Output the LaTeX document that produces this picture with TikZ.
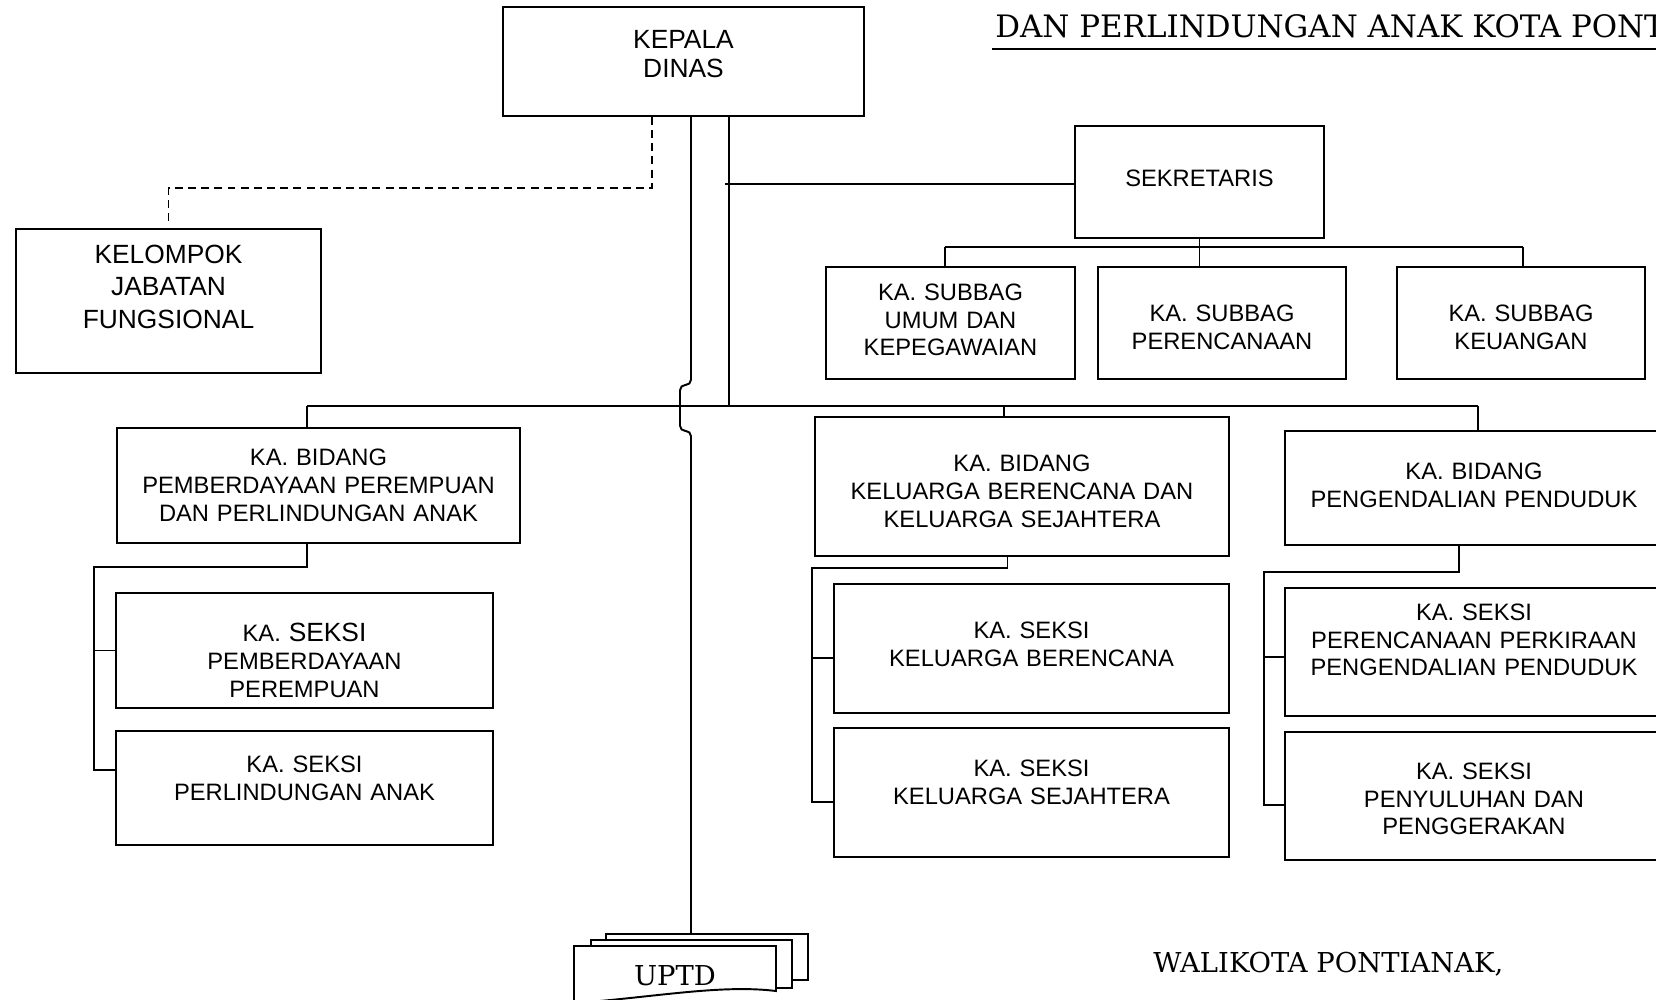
\documentclass[tikz,border=0pt]{standalone}
\usepackage{fontspec}
\setsansfont{Liberation Sans}
\newfontfamily\ttlfont{DejaVu Serif}
\usetikzlibrary{positioning}

\tikzset{
  box/.style={draw, line width=1.1pt, inner sep=0pt, align=center,
    font=\sffamily\fontsize{13.5}{15.8}\selectfont},
  lift/.style={execute at end node={\par\vspace*{#1}}},
  link/.style={line width=1.1pt},
  dashline/.style={line width=1.1pt, dash pattern=on 4.5pt off 3pt},
  page/.style={draw, fill=white, line width=1.1pt},
  serifnote/.style={inner sep=0pt, font=\ttlfont\fontsize{15.6}{18}\selectfont}
}

\begin{document}
\begin{tikzpicture}[x=0.02cm, y=-0.02cm]
\useasboundingbox (0,0) rectangle (1656,1000);

\node[serifnote, anchor=base west, font=\ttlfont\fontsize{17.6}{20}\selectfont] (ttl) at (995,38) {DAN PERLINDUNGAN ANAK KOTA PONTIANAK};
\draw[link] ([shift={(-3,11)}]ttl.base west) -- ++(700,0);

\node[box, text width=7.22cm, minimum height=2.18cm, lift=0.28cm,
  font=\sffamily\fontsize{15}{16.5}\selectfont] (kd) at (683.5,61.5) {KEPALA\\DINAS};
\node[box, text width=6.10cm, minimum height=2.88cm, lift=0.58cm,
  font=\sffamily\fontsize{15}{18.5}\selectfont] (kjf) at (168.5,301) {KELOMPOK\\JABATAN\\FUNGSIONAL};
\node[box, text width=4.98cm, minimum height=2.24cm, lift=0.16cm] (sek) at (1199.5,182) {SEKRETARIS};

\node[box, text width=4.98cm, minimum height=2.24cm, lift=0.12cm] (sbum) at (950.5,323) {KA. SUBBAG\\UMUM DAN\\KEPEGAWAIAN};
\node[box, text width=4.96cm, minimum height=2.24cm, lift=-0.16cm] (sbren) at (1222,323) {KA. SUBBAG\\PERENCANAAN};
\node[box, text width=4.96cm, minimum height=2.24cm, lift=-0.16cm] (sbkeu) at (1521,323) {KA. SUBBAG\\KEUANGAN};

\node[box, text width=8.06cm, minimum height=2.30cm] (bdppa) at (318.5,485.5) {KA. BIDANG\\PEMBERDAYAAN PEREMPUAN\\DAN PERLINDUNGAN ANAK};
\node[box, text width=7.54cm, minimum height=2.30cm, lift=-0.40cm] (skpp) at (304.5,650.5) {KA. {\fontsize{15}{15.8}\selectfont SEKSI}\\PEMBERDAYAAN\\PEREMPUAN};
\node[box, text width=7.54cm, minimum height=2.28cm, lift=0.38cm] (skpa) at (304.5,788) {KA. SEKSI\\PERLINDUNGAN ANAK};

\node[box, text width=8.28cm, minimum height=2.78cm, lift=-0.2cm] (bdkb) at (1022,486.5) {KA. BIDANG\\KELUARGA BERENCANA DAN\\KELUARGA SEJAHTERA};
\node[box, text width=7.90cm, minimum height=2.58cm, lift=0.18cm] (skkb) at (1031.5,648.5) {KA. SEKSI\\KELUARGA BERENCANA};
\node[box, text width=7.90cm, minimum height=2.58cm, lift=0.40cm] (skks) at (1031.5,792.5) {KA. SEKSI\\KELUARGA SEJAHTERA};

\node[box, text width=7.56cm, minimum height=2.28cm, lift=0.12cm] (bdpp) at (1474,488) {KA. BIDANG\\PENGENDALIAN PENDUDUK};
\node[box, text width=7.56cm, minimum height=2.56cm, lift=0.48cm] (skpk) at (1474,652) {KA. SEKSI\\PERENCANAAN PERKIRAAN\\PENGENDALIAN PENDUDUK};
\node[box, text width=7.56cm, minimum height=2.56cm, lift=-0.12cm] (skpg) at (1474,796) {KA. SEKSI\\PENYULUHAN DAN\\PENGGERAKAN};

\path[page] (606,934) rectangle (808,980);
\path[page] (591,940) rectangle (792,988);
\path[page] (574,946) -- (776,946) -- (776,991) .. controls (720,984) and (650,998) .. (574,1003) -- cycle;
\node[serifnote] (uptd) at (675,975.5) {UPTD};
\node[serifnote, anchor=base west] (wk) at (1153,972) {WALIKOTA PONTIANAK,};

\coordinate (upt) at (691,934);
\coordinate (busK) at (729,406);
\coordinate (busL) at (307,406);
\coordinate (busM) at (1004,406);
\coordinate (busR) at (1478,406);
\coordinate (sekL) at (725,184);
\coordinate (sbL) at (945,247);
\coordinate (sbR) at (1523,247);
\coordinate (g1) at (94,567);
\coordinate (g2) at (812,568);
\coordinate (g3) at (1264,572);

\draw[dashline] ([xshift=-0.63cm]kd.south) -- ++(0,71) -| ([yshift=0.14cm]kjf.north);
\draw[link, rounded corners=3pt] ([xshift=0.15cm]kd.south) -- ++(0,268) -- ++(-11,0) -- ++(0,46) -- ++(11,0) -- (upt);
\draw[link] ([xshift=0.91cm]kd.south) -- (busK);
\draw[link] (sekL) -- (sekL -| sek.west);

\draw[link] (sbL) -- (sbR);
\draw[link] (sbL) -- (sbL |- sbum.north);
\draw[link] (sek.south) -- (sek.south |- sbren.north);
\draw[link] (sbR) -- (sbR |- sbkeu.north);

\draw[link] (busL) -- (busR);
\draw[link] (busL) -- (busL |- bdppa.north);
\draw[link] (busM) -- (busM |- bdkb.north);
\draw[link] (busR) -- (busR |- bdpp.north);

\draw[link] ([xshift=-0.23cm]bdppa.south) |- (g1) |- ([yshift=0.36cm]skpa.west);
\draw[link] (skpp.west) -- ++(-22,0);
\draw[link] ([xshift=-0.29cm]bdkb.south) |- (g2) |- ([yshift=-0.19cm]skks.west);
\draw[link] ([yshift=-0.19cm]skkb.west) -- ++(-22,0);
\draw[link] ([xshift=-0.30cm]bdpp.south) |- (g3) |- ([yshift=-0.18cm]skpg.west);
\draw[link] ([yshift=-0.1cm]skpk.west) -- ++(-21,0);
\end{tikzpicture}
\end{document}
